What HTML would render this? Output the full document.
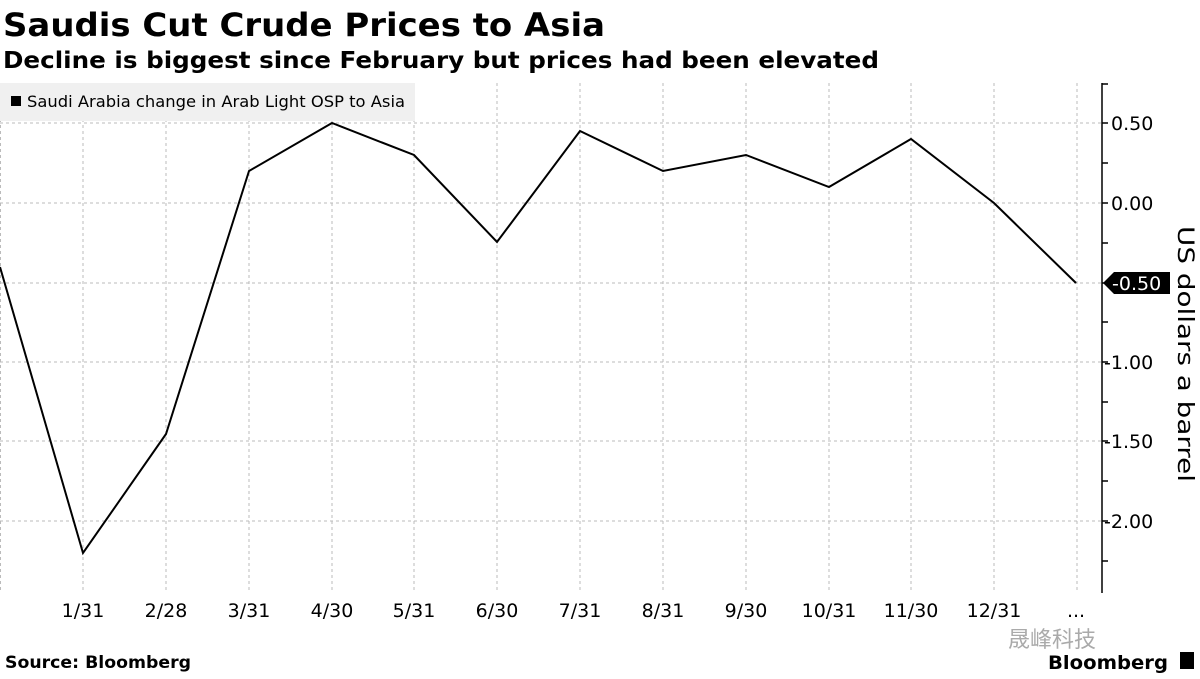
<!DOCTYPE html>
<html><head><meta charset="utf-8"><style>
body{margin:0;width:1200px;height:675px;background:#fff;overflow:hidden;font-family:"DejaVu Sans","Liberation Sans",sans-serif}
</style></head><body>
<svg width="1200" height="675" xmlns="http://www.w3.org/2000/svg" font-family="DejaVu Sans, Liberation Sans, sans-serif">
<text x="3" y="36" font-size="32" font-weight="bold" fill="#000" textLength="602" lengthAdjust="spacingAndGlyphs">Saudis Cut Crude Prices to Asia</text>
<text x="3" y="68" font-size="23" font-weight="bold" fill="#000" textLength="876" lengthAdjust="spacingAndGlyphs">Decline is biggest since February but prices had been elevated</text>
<g stroke="#bbb" stroke-width="1" stroke-dasharray="3,3">
<line x1="0" y1="123" x2="1102" y2="123"/><line x1="0" y1="203" x2="1102" y2="203"/>
<line x1="0" y1="283" x2="1102" y2="283"/><line x1="0" y1="362" x2="1102" y2="362"/>
<line x1="0" y1="441" x2="1102" y2="441"/><line x1="0" y1="521" x2="1102" y2="521"/>
<line x1="0.5" y1="83" x2="0.5" y2="593"/>
<line x1="83" y1="83" x2="83" y2="593"/><line x1="166" y1="83" x2="166" y2="593"/>
<line x1="249" y1="83" x2="249" y2="593"/><line x1="332" y1="83" x2="332" y2="593"/>
<line x1="414" y1="83" x2="414" y2="593"/><line x1="497" y1="83" x2="497" y2="593"/>
<line x1="580" y1="83" x2="580" y2="593"/><line x1="663" y1="83" x2="663" y2="593"/>
<line x1="746" y1="83" x2="746" y2="593"/><line x1="829" y1="83" x2="829" y2="593"/>
<line x1="911" y1="83" x2="911" y2="593"/><line x1="994" y1="83" x2="994" y2="593"/>
<line x1="1077" y1="83" x2="1077" y2="593"/>
</g>
<rect x="0" y="83" width="415" height="38" fill="#f0f0f0"/>
<rect x="11" y="96" width="10" height="10" fill="#000"/>
<text x="27" y="107" font-size="16" fill="#000" textLength="378" lengthAdjust="spacingAndGlyphs">Saudi Arabia change in Arab Light OSP to Asia</text>
<polyline fill="none" stroke="#000" stroke-width="2" points="0,267 83,553 166,434 249,171 332,123 414,155 497,242 580,131 663,171 746,155 829,187 911,139 994,203 1076,283"/>
<line x1="1102" y1="83" x2="1102" y2="593" stroke="#000" stroke-width="1.5"/>
<g stroke="#000" stroke-width="1.5">
<line x1="1102" y1="84" x2="1108" y2="84"/><line x1="1102" y1="123" x2="1108" y2="123"/>
<line x1="1102" y1="163" x2="1108" y2="163"/><line x1="1102" y1="203" x2="1108" y2="203"/>
<line x1="1102" y1="243" x2="1108" y2="243"/><line x1="1102" y1="283" x2="1108" y2="283"/>
<line x1="1102" y1="322" x2="1108" y2="322"/><line x1="1102" y1="362" x2="1108" y2="362"/>
<line x1="1102" y1="402" x2="1108" y2="402"/><line x1="1102" y1="441" x2="1108" y2="441"/>
<line x1="1102" y1="481" x2="1108" y2="481"/><line x1="1102" y1="521" x2="1108" y2="521"/>
<line x1="1102" y1="561" x2="1108" y2="561"/>
</g>
<g font-size="19" fill="#000">
<text x="1111" y="130">0.50</text><text x="1111" y="210">0.00</text>
<text x="1104" y="369">-1.00</text><text x="1104" y="448">-1.50</text><text x="1104" y="528">-2.00</text>
</g>
<polygon points="1103,283 1114,272 1170,272 1170,294 1114,294" fill="#000"/>
<text x="1112" y="290" font-size="19" fill="#fff">-0.50</text>
<text transform="translate(1178,226) rotate(90)" font-size="22" fill="#000" textLength="256" lengthAdjust="spacingAndGlyphs">US dollars a barrel</text>
<g font-size="19" fill="#000" text-anchor="middle">
<text x="83" y="617">1/31</text><text x="166" y="617">2/28</text><text x="249" y="617">3/31</text>
<text x="332" y="617">4/30</text><text x="414" y="617">5/31</text><text x="497" y="617">6/30</text>
<text x="580" y="617">7/31</text><text x="663" y="617">8/31</text><text x="746" y="617">9/30</text>
<text x="829" y="617">10/31</text><text x="911" y="617">11/30</text><text x="994" y="617">12/31</text>
<text x="1076" y="617">...</text>
</g>
<text x="5" y="668" font-size="17" font-weight="bold" fill="#000" textLength="186" lengthAdjust="spacingAndGlyphs">Source: Bloomberg</text>
<text x="1008" y="647" font-size="22" fill="#aaa" font-family="Noto Sans CJK SC, sans-serif">晟峰科技</text>
<text x="1048" y="669" font-size="19" font-weight="bold" fill="#000" textLength="120" lengthAdjust="spacingAndGlyphs">Bloomberg</text>
<rect x="1180" y="652" width="14" height="17" fill="#000"/>
</svg>
</body></html>
